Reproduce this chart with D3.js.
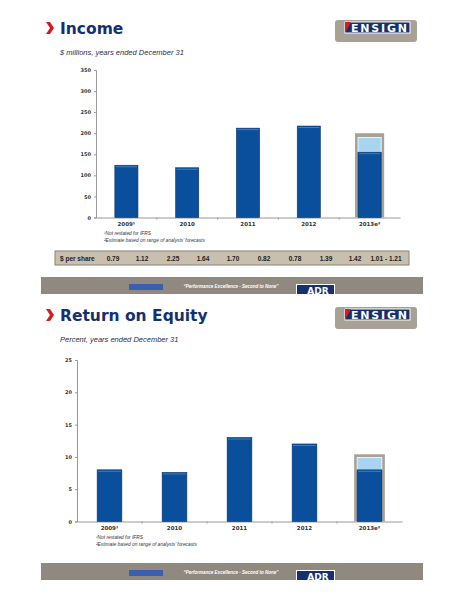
<!DOCTYPE html><html><head><meta charset="utf-8">
<script src="https://cdn.jsdelivr.net/npm/d3@7"></script>
<style>body{margin:0;background:#fff}svg{display:block}</style></head><body>
<script>
const years = ["2009¹","2010","2011","2012","2013e²"];
const income = [124,118,212,217,155];
const incomeHigh = 190, incomeBox = 200;
const incomeTicks = [0,50,100,150,200,250,300,350];
const roe = [8,7.6,13,12,8];
const roeHigh = 9.9, roeBox = 10.4;
const roeTicks = [0,5,10,15,20,25];
const perShare = ["0.79","1.12","2.25","1.64","1.70","0.82","0.78","1.39","1.42","1.01 - 1.21"];

const svg = d3.select("body").append("svg").attr("width",464).attr("height",600);
const navy="#14306e", blue="#0a4f9c", light="#a9d4f0";

function header(y0,title,sub,subY){
  svg.append("path").attr("d",`M46,${y0+22}l4,0l4,6l-4,6l-4,0l4,-6z`).attr("fill","#d71920");
  svg.append("text").attr("x",60).attr("y",y0+34).attr("font-family","DejaVu Sans").attr("font-weight","bold").attr("font-size",15.5).attr("fill",navy).text(title);
  const g=svg.append("g");
  g.append("rect").attr("x",335).attr("y",y0+20).attr("width",82).attr("height",22).attr("rx",3).attr("fill","#a7a196");
  g.append("rect").attr("x",345).attr("y",y0+22).attr("width",65).attr("height",11).attr("fill",navy).attr("stroke","#fff").attr("stroke-width",1);
  g.append("path").attr("d",`M345,${y0+22}h6l-6,11z`).attr("fill","#d71920");
  g.append("text").attr("x",379).attr("y",y0+32).attr("text-anchor","middle").attr("font-family","DejaVu Sans").attr("font-weight","bold").attr("font-size",11).attr("textLength",56).attr("fill","#fff").text("ENSIGN");
  svg.append("text").attr("x",60).attr("y",subY).attr("font-family","Liberation Sans").attr("font-style","italic").attr("font-size",7.5).attr("fill","#2c2c4c").text(sub);
}
function footer(y){
  svg.append("rect").attr("x",41).attr("y",y).attr("width",382).attr("height",17).attr("fill","#8f897f");
  svg.append("rect").attr("x",129).attr("y",y+7).attr("width",34).attr("height",6).attr("fill","#3a5fae");
  svg.append("text").attr("x",231).attr("y",y+11).attr("text-anchor","middle").attr("font-family","Liberation Sans").attr("font-style","italic").attr("font-weight","bold").attr("font-size",4.5).attr("fill","#fff").text("\u201cPerformance Excellence - Second to None\u201d");
  svg.append("rect").attr("x",296).attr("y",y+7).attr("width",39).attr("height",10).attr("fill","#fff");
  svg.append("rect").attr("x",297).attr("y",y+8).attr("width",37).attr("height",9).attr("fill",navy);
  svg.append("text").attr("x",318).attr("y",y+17).attr("text-anchor","middle").attr("font-family","DejaVu Sans").attr("font-weight","bold").attr("font-size",9).attr("fill","#fff").text("ADR");
}
function chart(o){
  const x=d3.scaleBand().domain(years).range([o.x0,o.x1]).paddingInner(o.pad).paddingOuter(o.pad/2);
  const y=d3.scaleLinear().domain([0,o.max]).range([o.y0,o.yt]);
  const ax=svg.append("g").attr("transform",`translate(${o.x0},0)`).call(d3.axisLeft(y).tickValues(o.ticks).tickSize(2).tickPadding(3));
  ax.selectAll("text").attr("font-size",5).attr("font-family","DejaVu Sans").attr("font-weight","bold").attr("fill","#333");
  ax.select(".domain").attr("stroke","#999");ax.selectAll("line").attr("stroke","#999");
  const bx=svg.append("g").attr("transform",`translate(0,${o.y0})`).call(d3.axisBottom(x).tickSize(0).tickPadding(5));
  bx.selectAll("text").attr("font-size",5.5).attr("font-family","DejaVu Sans").attr("font-weight","bold").attr("fill","#333");
  bx.select(".domain").attr("stroke","#999");
  years.forEach((_,i)=>{ if(i>0) svg.append("line").attr("x1",x(years[i])-x.step()*o.pad/2).attr("x2",x(years[i])-x.step()*o.pad/2).attr("y1",o.y0).attr("y2",o.y0+2).attr("stroke","#999");});
  const last=years[4], bw=x.bandwidth();
  svg.append("rect").attr("x",x(last)-3).attr("width",bw+6).attr("y",y(o.box)).attr("height",o.y0-y(o.box)).attr("fill","#a7a196");
  svg.append("rect").attr("x",x(last)).attr("width",bw).attr("y",y(o.high)).attr("height",y(o.vals[4])-y(o.high)).attr("fill",light).attr("stroke","#fff").attr("stroke-width",0.8);
  svg.selectAll(null).data(o.vals).join("rect").attr("x",(d,i)=>x(years[i])).attr("width",bw).attr("y",d=>y(d)).attr("height",d=>o.y0-y(d)).attr("fill",blue).attr("stroke","#0d2f66").attr("stroke-width",0.6);
  svg.selectAll(null).data(o.vals).join("line").attr("x1",(d,i)=>x(years[i])+1).attr("x2",(d,i)=>x(years[i])+bw-1).attr("y1",d=>y(d)+1.5).attr("y2",d=>y(d)+1.5).attr("stroke","#5c8fd0").attr("stroke-width",0.7);
  ["¹Not restated for IFRS","²Estimate based on range of analysts\u2019 forecasts"].forEach((t,i)=>
    svg.append("text").attr("x",o.fx).attr("y",o.y0+17+i*7).attr("font-family","Liberation Sans").attr("font-style","italic").attr("font-size",4.8).attr("fill","#333").text(t));
}
header(0,"Income","$ millions, years ended December 31",55);
chart({x0:96,x1:400,y0:217.5,yt:70,max:350,ticks:incomeTicks,vals:income,high:incomeHigh,box:incomeBox,pad:0.62,fx:104});
svg.append("rect").attr("x",55).attr("y",251).attr("width",354).attr("height",14).attr("fill","#c8bfae").attr("stroke","#8a8274");
svg.append("text").attr("x",60).attr("y",261).attr("font-family","Liberation Sans").attr("font-weight","bold").attr("font-size",6.5).attr("fill","#222").text("$ per share");
const px=[113,142,173,203,233,264,295,326,355,386];
perShare.forEach((v,i)=>svg.append("text").attr("x",px[i]).attr("y",261).attr("text-anchor","middle").attr("font-family","Liberation Sans").attr("font-weight","bold").attr("font-size",6.5).attr("fill","#222").text(v));
footer(277);
header(287,"Return on Equity","Percent, years ended December 31",342);
chart({x0:77,x1:402,y0:521.5,yt:360,max:25,ticks:roeTicks,vals:roe,high:roeHigh,box:roeBox,pad:0.62,fx:96});
footer(563);
</script></body></html>
